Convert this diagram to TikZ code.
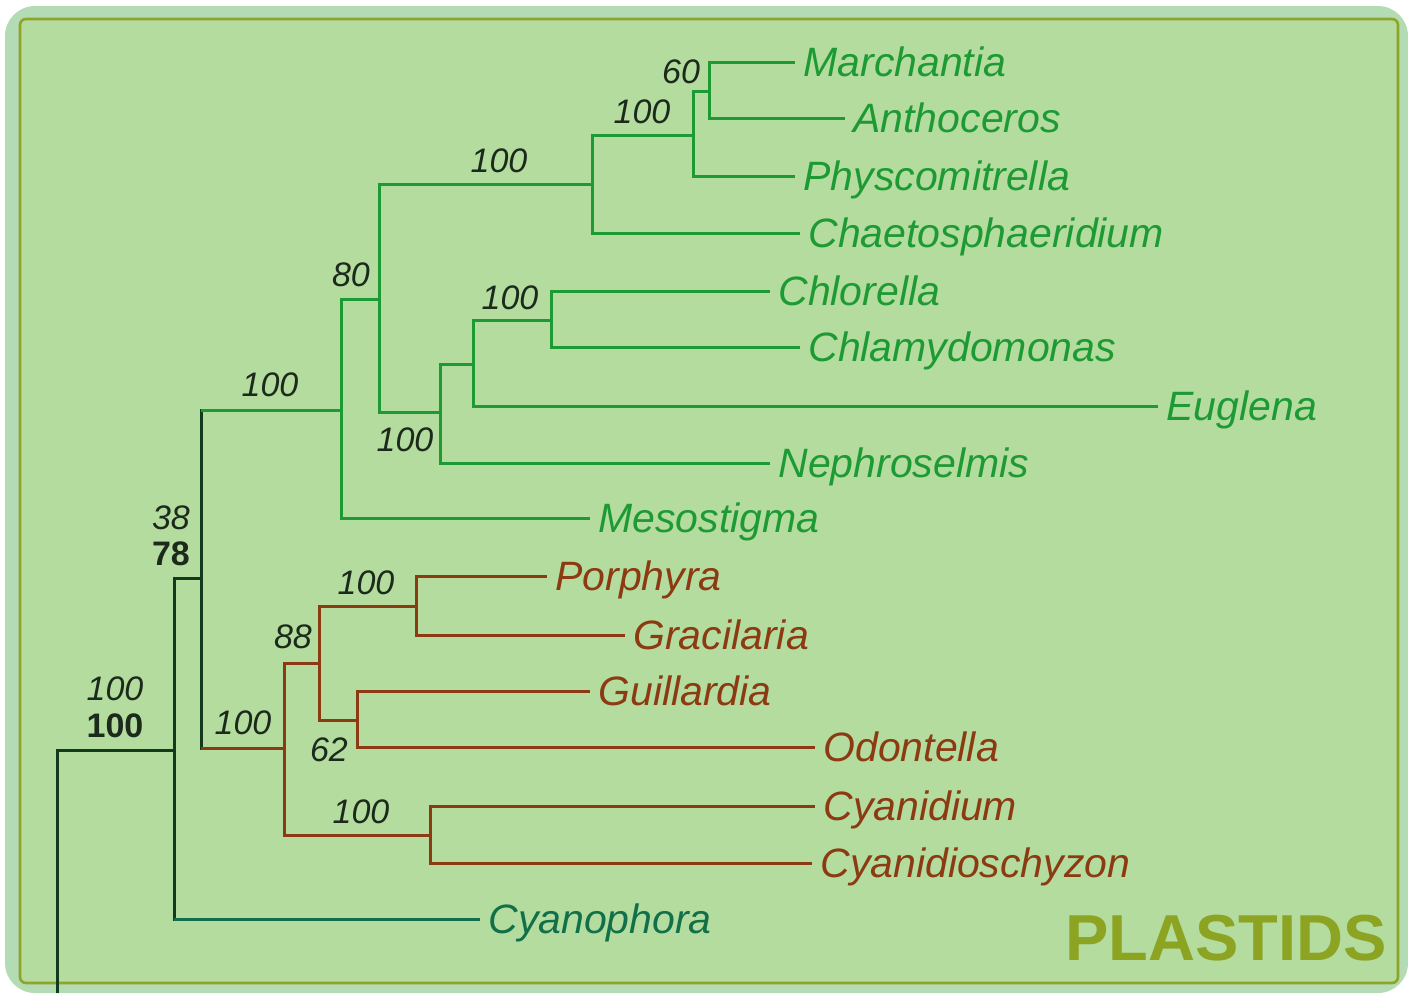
\documentclass[tikz,border=0pt]{standalone}
\usepackage{fontspec}
\setmainfont{Liberation Sans}
\usetikzlibrary{positioning}

\definecolor{outerbg}{HTML}{B4DCB4}
\definecolor{innerbg}{HTML}{B3DC9E}
\definecolor{framec}{HTML}{8FA52A}
\definecolor{greenc}{HTML}{1E9A35}
\definecolor{redc}{HTML}{8C3A12}
\definecolor{tealc}{HTML}{11704A}
\definecolor{darkc}{HTML}{123A1C}
\definecolor{numc}{HTML}{1C2A1C}
\definecolor{plastidsc}{HTML}{8DA423}

\begin{document}
\begin{tikzpicture}[x=0.5pt, y=-0.5pt,
    branch/.style={line width=1.5pt},
    taxon/.style={anchor=west, inner xsep=4pt, inner ysep=0pt,
        text height=14.7pt, text depth=0pt,
        font=\fontsize{20.5}{24}\selectfont\itshape},
    boot/.style={inner sep=0pt, text height=12.2pt, text depth=0pt,
        text=numc, font=\fontsize{17}{20}\selectfont\itshape},
    bootb/.style={boot, font=\fontsize{17}{20}\selectfont\bfseries}]

% =========================================================
%  Background panel
% =========================================================
\useasboundingbox (0,0) rectangle (1408,993);
\fill[white] (0,0) rectangle (1408,993);
\fill[outerbg, rounded corners=15pt] (5,6) rectangle (1408,993);
\draw[framec, fill=innerbg, line width=1.3pt, rounded corners=3pt]
    (20,19) rectangle (1398,983);

% =========================================================
%  Internal nodes of the tree
% =========================================================
\coordinate (base)    at (57,993);
\coordinate (root)    at (174,750);
\coordinate (plantae) at (201,578);
% green side
\coordinate (viridi)  at (341,410);
\coordinate (n80)     at (379,299);
\coordinate (land)    at (592,184);
\coordinate (mosses)  at (693,135);
\coordinate (liver)   at (709,91);
\coordinate (chlgrp)  at (440,412);
\coordinate (chleug)  at (473,364);
\coordinate (chlam)   at (551,320);
% red side
\coordinate (rhodo)   at (284,748);
\coordinate (n88)     at (319,663);
\coordinate (porgra)  at (416,606);
\coordinate (guiodo)  at (357,720);
\coordinate (cyani)   at (430,835);

% =========================================================
%  Leaves
% =========================================================
\node[taxon, text=greenc] (marchantia) at (795,62)  {Marchantia};
\node[taxon, text=greenc] (anthoceros) at (845,118) {Anthoceros};
\node[taxon, text=greenc] (physco)     at (795,176) {Physcomitrella};
\node[taxon, text=greenc] (chaeto)     at (800,233) {Chaetosphaeridium};
\node[taxon, text=greenc] (chlorella)  at (770,291) {Chlorella};
\node[taxon, text=greenc] (chlamy)     at (800,347) {Chlamydomonas};
\node[taxon, text=greenc] (euglena)    at (1158,406) {Euglena};
\node[taxon, text=greenc] (nephro)     at (770,463) {Nephroselmis};
\node[taxon, text=greenc] (meso)       at (590,518) {Mesostigma};
\node[taxon, text=redc]   (porphyra)   at (547,576) {Porphyra};
\node[taxon, text=redc]   (gracilaria) at (625,635) {Gracilaria};
\node[taxon, text=redc]   (guillardia) at (590,691) {Guillardia};
\node[taxon, text=redc]   (odontella)  at (815,747) {Odontella};
\node[taxon, text=redc]   (cyanidium)  at (815,806) {Cyanidium};
\node[taxon, text=redc]   (cyanidio)   at (812,863) {Cyanidioschyzon};
\node[taxon, text=tealc]  (cyanophora) at (480,919) {Cyanophora};

% =========================================================
%  Branches
% =========================================================
% root level
\draw[branch, darkc] (base) |- (root);
\draw[branch, darkc] (root) |- (plantae);
\draw[branch, darkc] (root) |- (cyanophora);
\draw[branch, tealc] (root |- cyanophora) -- (cyanophora);
\draw[branch, darkc] (plantae) |- (viridi);
\draw[branch, greenc] (plantae |- viridi) -- (viridi);
\draw[branch, darkc] (plantae) |- (rhodo);
\draw[branch, redc] (plantae |- rhodo) -- (rhodo);

% green plastids
\draw[branch, greenc] (viridi) |- (n80);
\draw[branch, greenc] (viridi) |- (meso);
\draw[branch, greenc] (n80) |- (land);
\draw[branch, greenc] (n80) |- (chlgrp);
\draw[branch, greenc] (land) |- (mosses);
\draw[branch, greenc] (land) |- (chaeto);
\draw[branch, greenc] (mosses) |- (liver);
\draw[branch, greenc] (mosses) |- (physco);
\draw[branch, greenc] (liver) |- (marchantia);
\draw[branch, greenc] (liver) |- (anthoceros);
\draw[branch, greenc] (chlgrp) |- (chleug);
\draw[branch, greenc] (chlgrp) |- (nephro);
\draw[branch, greenc] (chleug) |- (chlam);
\draw[branch, greenc] (chleug) |- (euglena);
\draw[branch, greenc] (chlam) |- (chlorella);
\draw[branch, greenc] (chlam) |- (chlamy);

% red plastids
\draw[branch, redc] (rhodo) |- (n88);
\draw[branch, redc] (rhodo) |- (cyani);
\draw[branch, redc] (n88) |- (porgra);
\draw[branch, redc] (n88) |- (guiodo);
\draw[branch, redc] (porgra) |- (porphyra);
\draw[branch, redc] (porgra) |- (gracilaria);
\draw[branch, redc] (guiodo) |- (guillardia);
\draw[branch, redc] (guiodo) |- (odontella);
\draw[branch, redc] (cyani) |- (cyanidium);
\draw[branch, redc] (cyani) |- (cyanidio);

% =========================================================
%  Support values
% =========================================================
\node[boot]  (b60)    at (681,71)  {60};
\node[boot]  (bmoss)  at (642,111) {100};
\node[boot]  (bland)  at (499,160) {100};
\node[boot]  (b80)    at (351,274) {80};
\node[boot]  (bchlam) at (510,297) {100};
\node[boot]  (bchlg)  at (405,439) {100};
\node[boot]  (bvir)   at (270,384) {100};
\node[boot]  (b38)    at (171,517) {38};
\node[bootb] (b78)    at (171,553) {78};
\node[boot]  (broot)  at (115,688) {100};
\node[bootb] (brootb) at (115,725) {100};
\node[boot]  (brho)   at (243,722) {100};
\node[boot]  (b88)    at (293,636) {88};
\node[boot]  (bporg)  at (366,582) {100};
\node[boot]  (b62)    at (329,749) {62};
\node[boot]  (bcyan)  at (361,811) {100};

% title
\node[inner sep=0pt, text height=23.3pt, text depth=0pt, text=plastidsc,
    font=\fontsize{32.5}{36}\selectfont\bfseries] (title) at (1226,937) {PLASTIDS};

\end{tikzpicture}
\end{document}
